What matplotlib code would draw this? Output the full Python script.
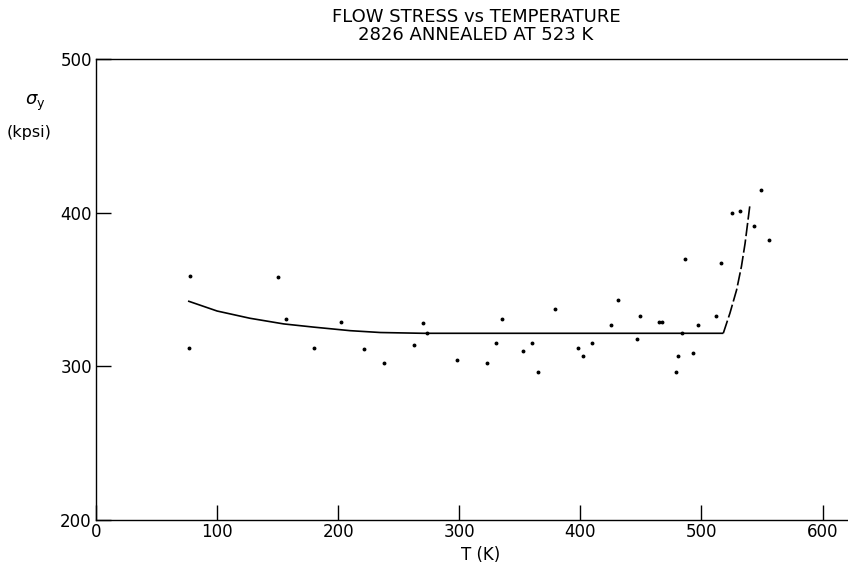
import matplotlib
matplotlib.use("Agg")
import matplotlib.pyplot as plt

# Data points (T in K, flow stress in kpsi)
T_pts = [78, 77, 150, 157, 180, 202, 221, 238, 263, 270, 273, 298, 323, 330, 335,
         353, 360, 365, 379, 398, 402, 410, 425, 431, 447, 449, 465, 467, 479, 481,
         484, 486, 493, 497, 512, 516, 525, 532, 543, 549, 556]
S_pts = [359, 312, 358, 331, 312, 329, 311, 302, 314, 328, 322, 304, 302, 315, 331,
         310, 315, 296, 337, 312, 307, 315, 327, 343, 318, 333, 329, 329, 296, 307,
         322, 370, 309, 327, 333, 367, 400, 401, 391, 415, 382]

# Fitted curve (solid part)
fit_T = [76, 100, 127, 155, 180, 210, 235, 270, 300, 400, 518]
fit_S = [342.5, 336, 331.3, 327.6, 325.5, 323.2, 322, 321.5, 321.5, 321.5, 321.5]
# Rising part (dashed)
rise_T = [518, 523.5, 529, 533, 536, 540]
rise_S = [321.5, 334.6, 349.7, 365, 380, 405]

x_ticks = [0, 100, 200, 300, 400, 500, 600]
y_ticks = [200, 300, 400, 500]

fig = plt.figure(figsize=(8.48, 5.65), dpi=100)
ax = fig.add_axes([96/848, 1-520/565, (848-96)/848, (520-59)/565])

ax.plot(fit_T, fit_S, color='black', lw=1.2, solid_capstyle='butt')
ax.plot(rise_T, rise_S, color='black', lw=1.2, linestyle=(0, (8, 2)))
ax.plot(T_pts, S_pts, linestyle='none', marker='o', ms=1.8, color='black')

ax.set_xlim(0, 621)
ax.set_ylim(200, 500)
ax.set_xticks(x_ticks)
ax.set_yticks(y_ticks)
ax.set_xticklabels([str(v) for v in x_ticks])
ax.set_yticklabels([str(v) for v in y_ticks])
ax.tick_params(direction='in', length=10.8, width=1.0, labelsize=12, pad=2, color='black')
ax.tick_params(axis='y', pad=3)
ax.spines['right'].set_visible(False)
for s in ['left', 'bottom', 'top']:
    ax.spines[s].set_linewidth(1.0)

fig.text(481/848, 1-555/565, 'T (K)', ha='center', va='center', fontsize=12)
fig.text(35/848, 1-103/565, r'$\sigma_{\mathrm{y}}$', ha='center', va='center', fontsize=13)
fig.text(29/848, 1-132/565, '(kpsi)', ha='center', va='center', fontsize=11.5)

fig.text(476/848, 1-25.5/565, 'FLOW STRESS vs TEMPERATURE\n2826 ANNEALED AT 523 K',
         ha='center', va='center', fontsize=13, linespacing=1.0, multialignment='center')

fig.savefig('out.png', dpi=100)
